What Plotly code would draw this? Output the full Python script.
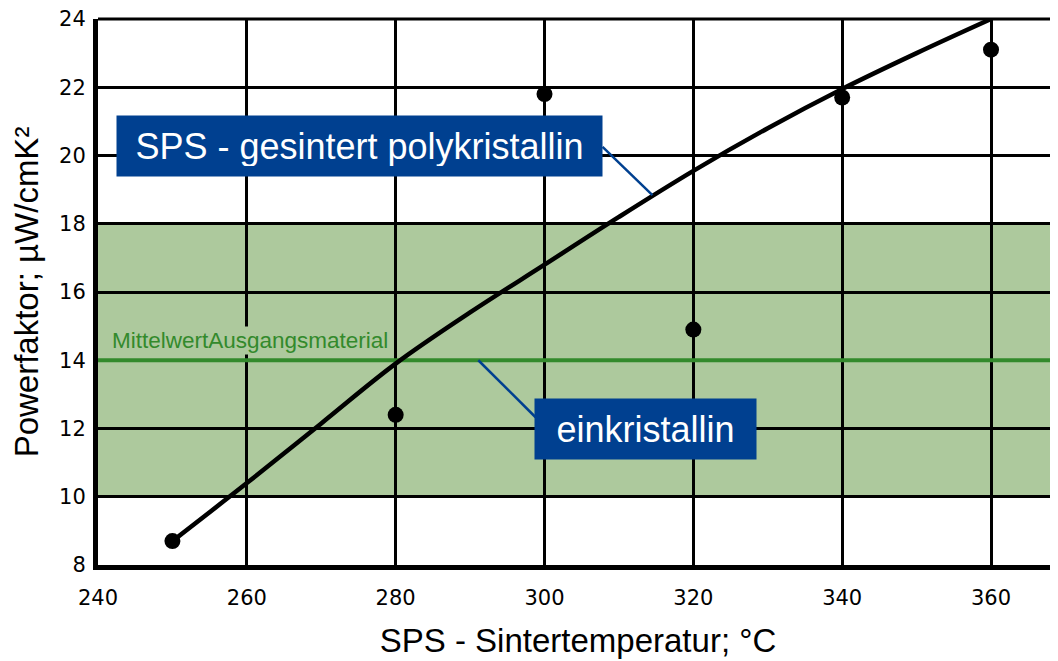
import plotly.graph_objects as go

# measured points
temps = [250, 280, 300, 320, 340, 360]
power_factor = [8.7, 12.4, 21.8, 14.9, 21.7, 23.1]

# trend curve
curve_temps = [250, 260, 270, 280, 290, 300, 310, 320, 330, 340, 350, 360]
curve_pf = [8.7, 10.4, 12.15, 13.9, 15.4, 16.8, 18.2, 19.55, 20.8, 21.95, 23.0, 24.0]

# single-crystal band and starting material mean
band_low, band_high = 10, 18
mean_level = 14

x_range = [240, 369]
y_range = [8, 24]
x_ticks = [240, 260, 280, 300, 320, 340, 360]
y_ticks = [8, 10, 12, 14, 16, 18, 20, 22, 24]

BLUE = "#004090"
GREEN = "#338a2c"
BAND = "#adc99d"
FONT = "Liberation Sans, Arial, sans-serif"


def build_figure():
  fig = go.Figure()

  # mean of starting material, drawn under the curve
  fig.add_trace(go.Scatter(x=x_range, y=[mean_level, mean_level], mode="lines",
                           line=dict(color=GREEN, width=4), hoverinfo="skip"))
  fig.add_trace(go.Scatter(x=curve_temps, y=curve_pf, mode="lines", line_shape="spline",
                           line=dict(color="black", width=4.5), hoverinfo="skip"))
  fig.add_trace(go.Scatter(x=temps, y=power_factor, mode="markers",
                           marker=dict(color="black", size=16)))

  fig.add_hrect(y0=band_low, y1=band_high, fillcolor=BAND, line_width=0, layer="below")
  # top grid line (plotly skips the grid line on the range edge)
  fig.add_shape(type="line", xref="paper", yref="paper", x0=0, x1=1, y0=1, y1=1,
                line=dict(color="black", width=3), layer="below")

  # callout leader lines
  fig.add_shape(type="line", x0=307.8, y0=20.25, x1=314.5, y1=18.84,
                line=dict(color=BLUE, width=2.5))
  fig.add_shape(type="line", x0=291.1, y0=14.0, x1=298.8, y1=12.33,
                line=dict(color=BLUE, width=2.5))

  fig.add_annotation(x=275.2, y=20.28, text="SPS - gesintert polykristallin", showarrow=False,
                     font=dict(family=FONT, size=36, color="white"), bgcolor=BLUE,
                     width=465, height=40, borderpad=10)
  fig.add_annotation(x=313.6, y=11.98, text="einkristallin", showarrow=False,
                     font=dict(family=FONT, size=36, color="white"), bgcolor=BLUE,
                     width=201, height=40, borderpad=10)
  fig.add_annotation(x=241.6, y=14.59, text="MittelwertAusgangsmaterial", showarrow=False,
                     xanchor="left", yanchor="middle", bgcolor=BAND, borderpad=1,
                     font=dict(family=FONT, size=22.5, color=GREEN))

  fig.update_xaxes(range=x_range, tickvals=x_ticks, showgrid=True, gridcolor="black", gridwidth=3,
                   showline=True, linecolor="black", linewidth=5, ticks="", ticklabelstandoff=10,
                   ticklabeloverflow="allow",
                   tickfont=dict(family="DejaVu Sans", size=21, color="black"),
                   title=dict(text="SPS - Sintertemperatur; °C", standoff=21,
                              font=dict(family=FONT, size=33, color="black")),
                   zeroline=False)
  fig.update_yaxes(range=y_range, tickvals=y_ticks, showgrid=True, gridcolor="black", gridwidth=3,
                   showline=True, linecolor="black", linewidth=5, ticks="", ticklabelstandoff=3,
                   ticklabeloverflow="allow",
                   tickfont=dict(family="DejaVu Sans", size=21, color="black"),
                   title=dict(text="Powerfaktor; µW/cmK²", standoff=19,
                              font=dict(family=FONT, size=33, color="black")),
                   zeroline=False)

  fig.update_layout(width=1050, height=653, showlegend=False,
                    margin=dict(l=90, r=0, t=11, b=96),
                    plot_bgcolor="white", paper_bgcolor="white")
  return fig


if __name__ == "__main__":
  fig = build_figure()
  fig.write_html("out.html")
